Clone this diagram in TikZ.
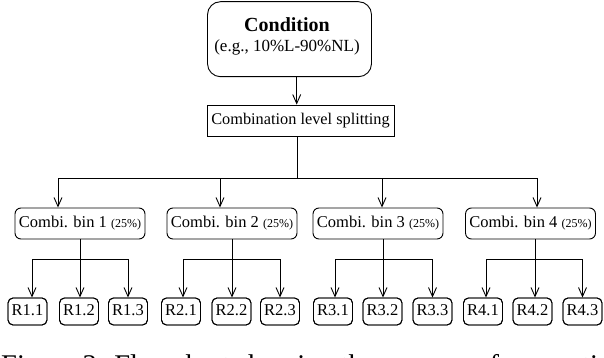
\documentclass[tikz,border=0pt]{standalone}
\usepackage{fontspec}
\setmainfont{Liberation Serif}
\usetikzlibrary{arrows.meta}
\begin{document}
\begin{tikzpicture}[x=1pt,y=-1pt,
  lw/.style={line width=0.9pt},
  arr/.style={lw,-{Straight Barb[length=9pt,width=8pt,line width=0.9pt]}},
  condbox/.style={draw,lw,rounded corners=13pt,minimum width=164pt,minimum height=75pt,inner sep=0pt},
  combbox/.style={draw,lw,minimum width=187pt,minimum height=31pt,inner sep=0pt,font=\fontsize{16.3}{19}\selectfont},
  binbox/.style={draw,lw,rounded corners=6pt,minimum width=130pt,minimum height=31pt,inner sep=0pt,font=\fontsize{16.5}{19}\selectfont},
  rbox/.style={draw,lw,rounded corners=5pt,minimum width=39pt,minimum height=27pt,inner sep=0pt,text height=11pt,text depth=3pt,font=\fontsize{16.5}{19}\selectfont},
  pct/.style={font=\fontsize{12}{14}\selectfont}]
\useasboundingbox (0,0) rectangle (604,358);

% top
\node[condbox] (cond) at (289.5,39.2) {};
\node[anchor=base,inner sep=0pt,font=\bfseries\fontsize{20}{24}\selectfont] (condt) at (287,31.7) {Condition};
\node[anchor=base,inner sep=0pt,font=\fontsize{17}{20}\selectfont] (conde) at (287,51.1) {(e.g., 10\%L-90\%NL)};
\node[combbox] (comb) at (300.5,120.5) {Combination level splitting};
\draw[arr] ([xshift=7.2pt]cond.south) -- ([xshift=7.2pt]cond.south |- comb.north);

% bins
\node[binbox] (b1) at (80,223.5) {Combi. bin 1 {\fontsize{12}{14}\selectfont(25\%)}};
\node[binbox] (b2) at (232,223.5) {Combi. bin 2 {\fontsize{12}{14}\selectfont(25\%)}};
\node[binbox] (b3) at (378,223.5) {Combi. bin 3 {\fontsize{12}{14}\selectfont(25\%)}};
\node[binbox] (b4) at (530.5,223.5) {Combi. bin 4 {\fontsize{12}{14}\selectfont(25\%)}};

\coordinate (bar) at (297,178);
\draw[lw] (comb.south -| bar) -- (bar);
\draw[arr] (bar) -| ([xshift=-22pt]b1.north);
\draw[arr] (bar) -| ([xshift=-12pt]b2.north);
\draw[arr] (bar) -| ([xshift=4pt]b3.north);
\draw[arr] (bar) -| ([xshift=6.5pt]b4.north);

% results
\foreach \n/\x in {11/27.5,12/79,13/128,21/181,22/231.5,23/280,31/333,32/382.5,33/432.5,41/483,42/532.5,43/582.5}{
  \node[rbox] (r\n) at (\x,311.5) {};
}
\node[rbox] at (r11) {R1.1};
\node[rbox] at (r12) {R1.2};
\node[rbox] at (r13) {R1.3};
\node[rbox] at (r21) {R2.1};
\node[rbox] at (r22) {R2.2};
\node[rbox] at (r23) {R2.3};
\node[rbox] at (r31) {R3.1};
\node[rbox] at (r32) {R3.2};
\node[rbox] at (r33) {R3.3};
\node[rbox] at (r41) {R4.1};
\node[rbox] at (r42) {R4.2};
\node[rbox] at (r43) {R4.3};

\coordinate (j1) at (80,259);
\coordinate (j2) at (232,259);
\coordinate (j3) at (383,259);
\coordinate (j4) at (535,259);
\draw[lw] (b1.south -| j1) -- (j1);
\draw[lw] (b2.south -| j2) -- (j2);
\draw[lw] (b3.south -| j3) -- (j3);
\draw[lw] (b4.south -| j4) -- (j4);

\draw[arr] (j1) -| ([xshift=4.5pt]r11.north);
\draw[arr] (j1) -- (j1 |- r12.north);
\draw[arr] (j1) -| (r13.north);
\draw[arr] (j2) -| ([xshift=2pt]r21.north);
\draw[arr] (j2) -- (j2 |- r22.north);
\draw[arr] (j2) -| (r23.north);
\draw[arr] (j3) -| ([xshift=2pt]r31.north);
\draw[arr] (j3) -- (j3 |- r32.north);
\draw[arr] (j3) -| (r33.north);
\draw[arr] (j4) -| ([xshift=3pt]r41.north);
\draw[arr] (j4) -- (j4 |- r42.north);
\draw[arr] (j4) -| (r43.north);

% caption (cut off at the bottom edge)
\begin{scope}
\clip (0,0) rectangle (604,358);
\node[anchor=base west,inner sep=0pt,font=\fontsize{28.5}{34}\selectfont] (cap) at (1,374.5) {Figure 3: Flowchart showing the process of generating};
\end{scope}
\end{tikzpicture}
\end{document}
